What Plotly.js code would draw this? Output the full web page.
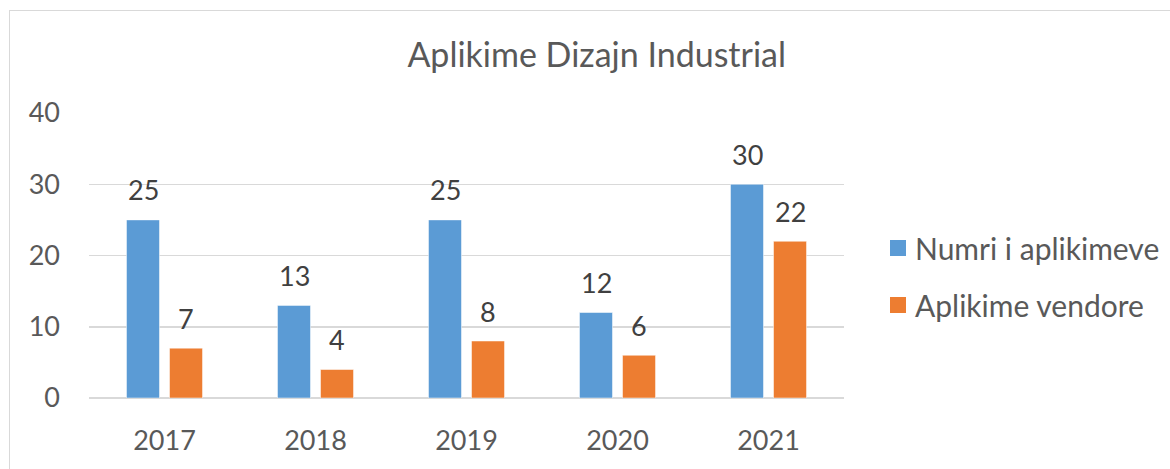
<!DOCTYPE html>
<html>
<head>
<meta charset="utf-8">
<script src="https://cdn.plot.ly/plotly-3.0.1.min.js"></script>
<style>
html,body{margin:0;padding:0;background:#fff;width:1170px;height:469px;overflow:hidden;}
#frame{position:absolute;left:9px;top:10px;width:1200px;height:500px;border:1px solid #d9d9d9;box-sizing:border-box;}
#chart{position:absolute;left:0;top:0;width:1170px;height:469px;}
</style>
</head>
<body>
<div id="frame"></div>
<div id="chart"></div>
<script>
const years = ['2017', '2018', '2019', '2020', '2021'];
const numriAplikimeve = [25, 13, 25, 12, 30];
const aplikimeVendore = [7, 4, 8, 6, 22];
const seriesNames = ['Numri i aplikimeve', 'Aplikime vendore'];
const seriesColors = ['#5b9bd5', '#ed7d31'];
const yTicks = [0, 10, 20, 30, 40];

const FONT = 'Lato, "Open Sans", sans-serif';
const traces = [numriAplikimeve, aplikimeVendore].map((vals, si) => ({
  type: 'bar', name: seriesNames[si], x: years, y: vals,
  marker: {color: seriesColors[si], line: {color: '#ffffff', width: 0.5}}, hoverinfo: 'none'
}));

const annotations = [];
const shapes = [];
[numriAplikimeve, aplikimeVendore].forEach((vals, si) => {
  vals.forEach((v, i) => {
    annotations.push({
      x: i, y: v, xref: 'x', yref: 'y', text: String(v), showarrow: false,
      xshift: si === 0 ? -21.5 : 21.5, yshift: 30, yanchor: 'middle',
      font: {family: FONT, size: 27, color: '#404040'}
    });
  });
});

// custom legend (larger swatches, as in the reference)
const legendRowsY = [0.5263, 0.3263];
seriesNames.forEach((name, si) => {
  const yc = legendRowsY[si];
  shapes.push({type: 'rect', xref: 'paper', yref: 'paper',
    x0: 1.0609, x1: 1.0821, y0: yc - 0.0281, y1: yc + 0.0281,
    fillcolor: seriesColors[si], line: {width: 0}});
  annotations.push({xref: 'paper', yref: 'paper', x: 1.0915, y: yc, xanchor: 'left', yanchor: 'middle',
    text: name, showarrow: false, font: {family: FONT, size: 30, color: '#595959'}});
});

const layout = {
  width: 1170, height: 469,
  margin: {l: 89, r: 326, t: 113, b: 71, autoexpand: false},
  paper_bgcolor: 'rgba(0,0,0,0)', plot_bgcolor: 'rgba(0,0,0,0)',
  barmode: 'group', bargap: 0.43, bargroupgap: 0.233,
  title: {text: 'Aplikime Dizajn Industrial', x: 0.51, xanchor: 'center', y: 0.883, yanchor: 'middle',
          font: {family: FONT, size: 34, color: '#595959'}},
  xaxis: {type: 'category', range: [-0.5, 4.5], showgrid: false, zeroline: false, showline: false,
          ticks: '', ticklabelstandoff: 24, tickfont: {family: FONT, size: 27, color: '#595959'}},
  yaxis: {range: [0, 40], tickvals: yTicks, ticktext: yTicks.map(String), showgrid: true,
          gridcolor: '#d9d9d9', gridwidth: 1.5, zeroline: true, zerolinecolor: '#d9d9d9', zerolinewidth: 1.5,
          showline: false, ticks: '', ticklabelstandoff: 28,
          tickfont: {family: FONT, size: 27, color: '#595959'}},
  annotations: annotations,
  shapes: shapes,
  showlegend: false
};

Plotly.newPlot('chart', traces, layout, {displayModeBar: false, staticPlot: true});
</script>
</body>
</html>
